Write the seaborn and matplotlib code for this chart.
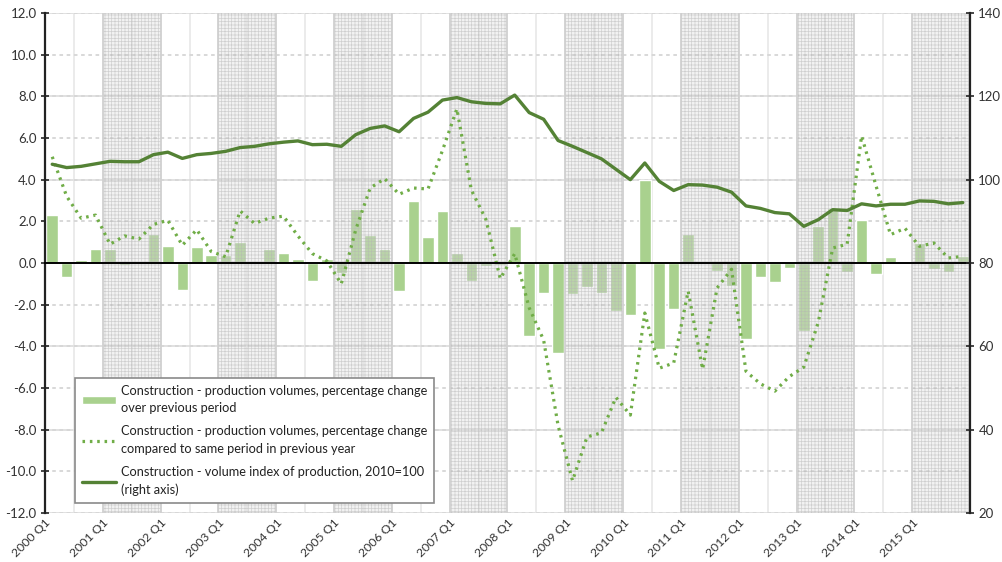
import matplotlib
matplotlib.use("Agg")
import matplotlib.pyplot as plt
import seaborn as sns
import pandas as pd
import numpy as np

# quarterly data 2000 Q1 - 2015 Q4
qoq_change = [
    2.3, -0.65, 0.15, 0.65,
    0.65, -0.1, -0.05, 1.4,
    0.8, -1.3, 0.75, 0.4,
    0.4, 1.0, 0.1, 0.65,
    0.5, 0.2, -0.85, 0.2,
    -0.5, 2.6, 1.35, 0.65,
    -1.35, 3.0, 1.25, 2.5,
    0.5, -0.85, -0.15, -0.1,
    1.8, -3.5, -1.45, -4.3,
    -1.5, -1.15, -1.45, -2.3,
    -2.5, 4.0, -4.15, -2.2,
    1.4, 0.05, -0.4, -1.1,
    -3.65, -0.65, -0.9, -0.25,
    -3.25, 1.8, 2.65, -0.45,
    2.05, -0.55, 0.3, 0.0,
    0.95, -0.3, -0.45, 0.35,
]
yoy_change = [
    5.1, 3.2, 2.15, 2.3,
    0.9, 1.3, 1.15, 1.85,
    2.05, 0.85, 1.6, 0.55,
    0.3, 2.5, 1.9, 2.15,
    2.25, 1.3, 0.45, 0.1,
    -1.0, 1.6, 3.6, 4.05,
    3.3, 3.6, 3.55, 5.4,
    7.4, 3.5, 2.1, -0.75,
    0.45, -2.15, -3.7, -7.8,
    -10.45, -8.35, -8.15, -6.45,
    -7.3, -2.4, -5.05, -4.8,
    -1.35, -5.1, -1.2, -0.3,
    -5.2, -5.8, -6.15, -5.45,
    -5.0, -2.85, 0.72, 0.9,
    6.1, 3.7, 1.36, 1.67,
    0.8, 0.96, 0.24, 0.32,
]
volume_index = [
    103.7, 102.9, 103.2, 103.8,
    104.4, 104.3, 104.3, 106.0,
    106.6, 105.1, 106.0, 106.3,
    106.8, 107.7, 108.0, 108.6,
    109.0, 109.3, 108.4, 108.5,
    108.0, 110.8, 112.3, 112.9,
    111.5, 114.7, 116.2, 119.1,
    119.7, 118.7, 118.3, 118.2,
    120.3, 116.1, 114.5, 109.4,
    108.0, 106.5, 105.0, 102.5,
    100.0, 104.0, 99.6, 97.4,
    98.8, 98.7, 98.2, 97.0,
    93.7, 93.1, 92.1, 91.8,
    88.8, 90.4, 92.8, 92.6,
    94.2, 93.7, 94.1, 94.1,
    94.9, 94.8, 94.2, 94.5,
]
year_labels = ["2000 Q1", "2001 Q1", "2002 Q1", "2003 Q1", "2004 Q1", "2005 Q1",
               "2006 Q1", "2007 Q1", "2008 Q1", "2009 Q1", "2010 Q1", "2011 Q1",
               "2012 Q1", "2013 Q1", "2014 Q1", "2015 Q1"]
shaded_years = [1, 3, 5, 7, 9, 11, 13, 15]   # index into year_labels

label_qoq = "Construction - production volumes, percentage change\nover previous period"
label_yoy = "Construction - production volumes, percentage change\ncompared to same period in previous year"
label_idx = "Construction - volume index of production, 2010=100\n(right axis)"

df = pd.DataFrame({
    "pos": np.arange(len(qoq_change)),
    "qoq": qoq_change,
    "yoy": yoy_change,
    "index": volume_index,
})

sns.set_style("white")
plt.rcParams["font.family"] = ["Lato", "DejaVu Sans"]
plt.rcParams["hatch.linewidth"] = 0.5

fig = plt.figure(figsize=(10.02, 5.62), dpi=100)
ax = fig.add_axes([45 / 1002, 49 / 562, 925 / 1002, 500 / 562])
ax2 = ax.twinx()

# alternate-year shading
for k in shaded_years:
    ax.axvspan(-0.5 + 4 * k, 3.5 + 4 * k, facecolor=(0.86, 0.86, 0.86, 0.35),
               edgecolor=(0.70, 0.70, 0.70, 0.55), hatch="+++++", lw=0, zorder=2.5)
    ax.axvline(-0.5 + 4 * k, color="#d0d0d0", lw=1.2, zorder=2.5)
    ax.axvline(3.5 + 4 * k, color="#d0d0d0", lw=1.2, zorder=2.5)

sns.barplot(data=df, x="pos", y="qoq", native_scale=True, color="#a9d18e",
            saturation=1, width=0.8, errorbar=None, ax=ax, label=label_qoq, zorder=2)
sns.lineplot(data=df, x="pos", y="yoy", ax=ax, color="#70ad47", lw=2.3,
             linestyle=(0, (0.8, 1.5)), label=label_yoy, zorder=3)
sns.lineplot(data=df, x="pos", y="index", ax=ax2, color="#548235", lw=2.4,
             label=label_idx, zorder=3)

# axes ranges
ax.set_xlim(-0.5, 63.5)
ax.set_ylim(-12, 12)
ax2.set_ylim(20, 140)

# gridlines
ax.set_axisbelow(True)
left_ticks = np.arange(-12, 12.1, 2)
ax.set_yticks(left_ticks, labels=[f"{v:.1f}" for v in left_ticks])
ax.grid(axis="y", which="major", linestyle=(0, (2, 2)), color="#d6d6d6", lw=1.3)
for v in range(-12, 13, 4):
    ax.axhline(v, color="#dedede", lw=1.3, zorder=0.5)
ax.set_xticks(np.arange(-0.5, 64, 4))
ax.set_xticks(np.arange(-0.5, 64, 2), minor=True)
ax.grid(axis="x", which="both", color="#e6e6e6", lw=1.1)

# category axis crossing at zero
ax.spines["bottom"].set_position(("data", 0))
ax.spines["bottom"].set_color("black")
ax.spines["bottom"].set_linewidth(1.4)
ax.spines["bottom"].set_zorder(4)
ax.tick_params(axis="x", which="major", direction="inout", length=7, width=1.2,
               labelbottom=False)
ax.tick_params(axis="x", which="minor", length=0)
for s in ["top", "right"]:
    ax.spines[s].set_visible(False)
ax.spines["left"].set_color("#222222")
ax.spines["left"].set_linewidth(1.6)
ax.tick_params(axis="y", direction="inout", length=6, width=1.2,
               labelsize=9.5, labelcolor="#333333", pad=3)

year_pos = np.arange(len(year_labels)) * 4 - 0.5
sec = ax.secondary_xaxis(0.0)
sec.set_xticks(year_pos, labels=year_labels, rotation=45,
               ha="right", rotation_mode="anchor", fontsize=8.8, color="#333333")
sec.tick_params(length=0, pad=3)
sec.spines["bottom"].set_visible(False)

ax2.set_yticks(np.arange(20, 141, 20))
ax2.grid(False)
for s in ["top", "left", "bottom"]:
    ax2.spines[s].set_visible(False)
ax2.spines["right"].set_color("#222222")
ax2.spines["right"].set_linewidth(1.6)
ax2.tick_params(axis="y", direction="inout", length=6, width=1.2,
                labelsize=9.5, labelcolor="#333333", pad=3)

ax.set_xlabel("")
ax.set_ylabel("")
ax2.set_xlabel("")
ax2.set_ylabel("")

# combined legend, in the order bars / dotted / index
h1, l1 = ax.get_legend_handles_labels()
h2, l2 = ax2.get_legend_handles_labels()
if ax.get_legend() is not None:
    ax.get_legend().remove()
lookup = dict(zip(l1 + l2, h1 + h2))
order = [label_qoq, label_yoy, label_idx]
leg = ax2.legend([lookup[k] for k in order], order, loc="lower left",
                 bbox_to_anchor=(0.032, 0.02), borderaxespad=0, frameon=True,
                 fancybox=False, edgecolor="#8a8a8a", framealpha=1, fontsize=9.2,
                 handlelength=2.7, handleheight=0.6, labelspacing=0.85, borderpad=0.55,
                 handletextpad=0.35)
leg.get_frame().set_linewidth(1.2)
for t in leg.get_texts():
    t.set_linespacing(1.55)
    t.set_color("#222222")

fig.savefig("out.png", dpi=100)
